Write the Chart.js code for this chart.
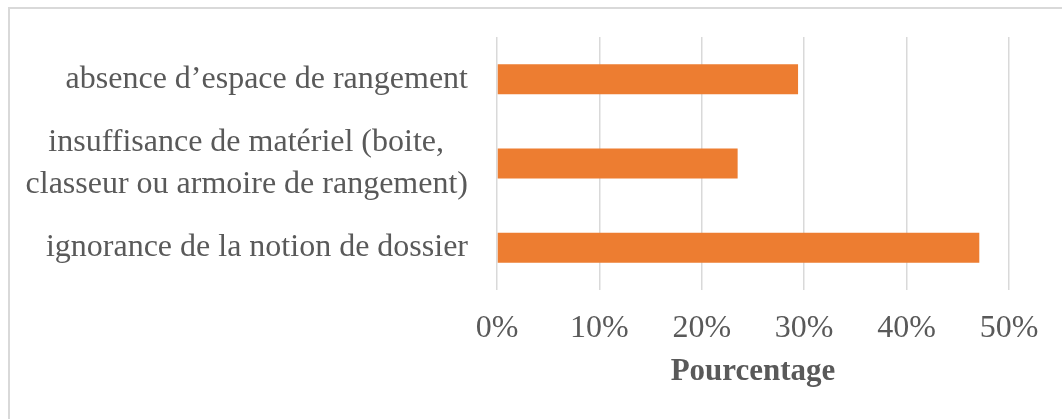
<!DOCTYPE html>
<html>
<head>
<meta charset="utf-8">
<script src="https://cdn.jsdelivr.net/npm/chart.js@4"></script>
<style>
  html, body { margin: 0; padding: 0; background: #fff; overflow: hidden; }
  #wrap { position: relative; width: 1062px; height: 419px; }
  #frame { position: absolute; left: 8px; top: 7px; width: 2000px; height: 2000px;
           border: 2px solid #d9d9d9; pointer-events: none; }
  canvas { position: absolute; left: 0; top: 0; }
</style>
</head>
<body>
<div id="wrap">
  <canvas id="myChart" width="1062" height="419"></canvas>
  <div id="frame"></div>
</div>
<script>
// categories (top to bottom), middle one wraps on two lines
var categories = [
  "absence d\u2019espace de rangement",
  ["insuffisance de mat\u00e9riel (boite,\u00a0\u00a0\u00a0", "classeur ou armoire de rangement)"],
  "ignorance de la notion de dossier"
];
var pourcentages = [29.4, 23.5, 47.1];
var tickLabels = ["0%", "10%", "20%", "30%", "40%", "50%"];
var axisTitle = "Pourcentage";

var grey = "#595959";
var serif = "'Liberation Serif', 'Times New Roman', serif";

function renderChart() {
  var ctx = document.getElementById("myChart").getContext("2d");
  new Chart(ctx, {
    type: "bar",
    data: {
      labels: categories,
      datasets: [{
        data: pourcentages,
        backgroundColor: "#ED7D31",
        borderWidth: 0,
        categoryPercentage: 1,
        barPercentage: 0.355
      }]
    },
    options: {
      indexAxis: "y",
      responsive: false,
      devicePixelRatio: 1,
      animation: false,
      layout: { padding: { top: 37, right: 53, left: 0, bottom: 0 } },
      plugins: {
        legend: { display: false },
        tooltip: { enabled: false }
      },
      scales: {
        x: {
          min: 0,
          max: 50,
          grid: { color: "#d9d9d9", lineWidth: 1.5, drawTicks: false },
          border: { display: false },
          ticks: {
            stepSize: 10,
            padding: 19,
            color: grey,
            font: { family: serif, size: 32 },
            callback: function(v, i) { return tickLabels[i]; }
          },
          title: {
            display: true,
            text: axisTitle,
            color: grey,
            font: { family: serif, size: 31, weight: "bold" },
            padding: { top: 0, bottom: 28 }
          },
          afterFit: function(scale) {
            scale.height = 129;
            scale.paddingLeft = 0;
            scale.paddingRight = 0;
          }
        },
        y: {
          grid: { display: false, drawTicks: false },
          border: { display: false },
          ticks: {
            autoSkip: false,
            padding: 29,
            color: grey,
            font: { family: serif, size: 32, lineHeight: 1.3 }
          },
          afterFit: function(scale) {
            scale.width = 497;
            scale.paddingTop = 0;
            scale.paddingBottom = 0;
          }
        }
      }
    }
  });
}

renderChart();
</script>
</body>
</html>
